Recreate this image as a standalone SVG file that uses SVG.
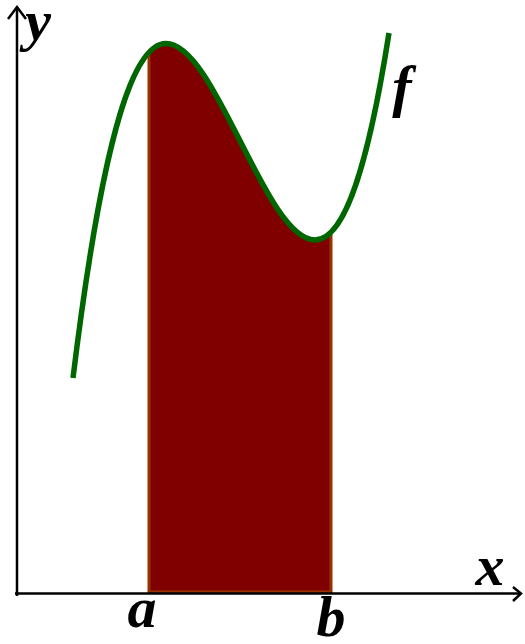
<svg xmlns="http://www.w3.org/2000/svg" width="525" height="644" viewBox="0 0 525 644">
<style>
.lbl{font-family:"Liberation Serif","Times New Roman",serif;font-style:italic;font-weight:bold;font-size:58px;fill:#000;text-anchor:middle}
.axis{stroke:#000;stroke-width:2.5;fill:none}
</style>
<rect width="525" height="644" fill="#fff"/>
<g id="area">
<path d="M149,592 L149,52 C154.66,46.13 160.33,43.5 166,43.5 C215.67,43.5 265.33,240 315,240 C320.33,240 325.67,237.59 331,232.24 L331,592 Z" fill="#800000" stroke="#993300" stroke-width="3"/>
</g>
<g id="connectors">
<path class="axis" d="M17,596 L17,7" stroke-width="3"/>
<path class="axis" d="M8,19 L17,7 L26,19"/>
<path class="axis" d="M15,593.5 L521,593.5"/>
<path class="axis" d="M513,587 L521,593.5 L513,601"/>
</g>
<g id="curve">
<path d="M73,378 C104,125 135,43.5 166,43.5 C215.67,43.5 265.33,240 315,240 C339.67,240 364.33,190 389,33" fill="none" stroke="#006600" stroke-width="5.5"/>
</g>
<g id="labels">
<text class="lbl" x="38" y="40">y</text>
<text class="lbl" x="490" y="585">x</text>
<text class="lbl" x="142" y="627">a</text>
<text class="lbl" x="331" y="636">b</text>
<text class="lbl" x="402" y="106">f</text>
</g>
</svg>
